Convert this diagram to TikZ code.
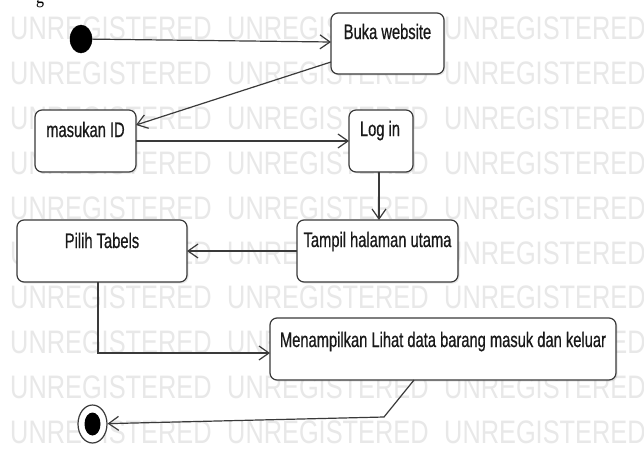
\documentclass[tikz,border=0pt]{standalone}
\usepackage{fontspec}
\usetikzlibrary{arrows.meta,calc,shapes.geometric,shadows}
\newfontfamily\labelfont[FakeStretch=0.70,FakeBold=0.6]{Liberation Sans}
\newfontfamily\wmfont[FakeStretch=0.78]{Liberation Sans}
\newfontfamily\headfont[FakeStretch=0.8]{Liberation Serif}
\definecolor{linec}{HTML}{3A3A3A}
\definecolor{wmgray}{HTML}{E8E8E8}
\tikzset{
  act/.style={draw=linec, line width=1.2pt, rounded corners=7pt, fill=white,
    inner sep=0pt, outer sep=0pt, anchor=north west,
    drop shadow={shadow xshift=1.5pt, shadow yshift=-1.5pt, opacity=0.18}},
  lbl/.style={font=\labelfont\fontsize{21}{24}\selectfont, text=black!90, anchor=base, inner sep=0pt},
  flow/.style={draw=linec, line width=1.2pt,
    -{Straight Barb[length=10pt,width=14pt,line width=1.2pt]}},
  wm/.style={font=\wmfont\fontsize{32.5}{36}\selectfont, text=wmgray, anchor=base west, inner sep=0pt}
}
\begin{document}
\begin{tikzpicture}[x=1pt,y=-1pt]
  \useasboundingbox (0,0) rectangle (644,455);
  \fill[white] (0,0) rectangle (644,455);

  % watermark rows
  \foreach \r in {0,...,9} {
    \foreach \c in {0,1,2} {
      \node[wm] (wm-\r-\c) at (10+217*\c, 39.5+44.9*\r) {UNREGISTERED};
    }
  }

  % heading fragment at the top edge
  \node[font=\headfont\fontsize{20}{22}\selectfont, anchor=base, inner sep=0pt] (head) at (40,3) {g};

  % start and end states
  \node[ellipse, fill=black, draw=black, minimum width=22pt, minimum height=28pt, inner sep=0pt] (init) at (81,39) {};
  \node[ellipse, fill=white, draw=linec, line width=1.2pt, minimum width=29pt, minimum height=38pt, inner sep=0pt] (fin) at (92.5,424) {};
  \node[ellipse, fill=black, minimum width=16pt, minimum height=23pt, inner sep=0pt] (finin) at (92.5,424) {};

  % activities
  \node[act, minimum width=113pt, minimum height=61pt] (buka) at (331,13) {};
  \node[act, minimum width=101pt, minimum height=62pt] (masuk) at (35,110) {};
  \node[act, minimum width=64pt, minimum height=62pt] (login) at (349,110) {};
  \node[act, minimum width=161pt, minimum height=62pt] (tampil) at (297,220) {};
  \node[act, minimum width=170pt, minimum height=62pt] (pilih) at (17,220) {};
  \node[act, minimum width=346pt, minimum height=62pt] (menam) at (270,318) {};

  % activity labels
  \node[lbl] (tbuka) at ($(buka.north)+(0,26)$) {Buka website};
  \node[lbl] (tmasuk) at ($(masuk.north)+(0,27)$) {masukan ID};
  \node[lbl] (tlogin) at ($(login.north)+(-1,26)$) {Log in};
  \node[lbl] (ttampil) at ($(tampil.north)+(0,27)$) {Tampil halaman utama};
  \node[lbl] (tpilih) at ($(pilih.north)+(0,28)$) {Pilih Tabels};
  \node[lbl] (tmenam) at ($(menam.north)+(0,29)$) {Menampilkan Lihat data barang masuk dan keluar};

  % transitions
  \draw[flow] (init) -- ($(buka.north west)+(0,29)$);
  \draw[flow] ($(buka.south west)+(0,-12)$) -- ($(masuk.north east)+(0,15)$);
  \draw[flow] (masuk.east) -- (login.west);
  \draw[flow] ($(login.south)+(-2,0)$) -- ($(login.south |- tampil.north)+(-2,0)$);
  \draw[flow] (tampil.west) -- (pilih.east);
  \draw[flow] ($(pilih.south)+(-4,0)$) |- ($(menam.west)+(0,4)$);
  \draw[flow] ($(menam.south)+(-29,0)$) -- ++(-30,37) -- (fin);
\end{tikzpicture}
\end{document}
